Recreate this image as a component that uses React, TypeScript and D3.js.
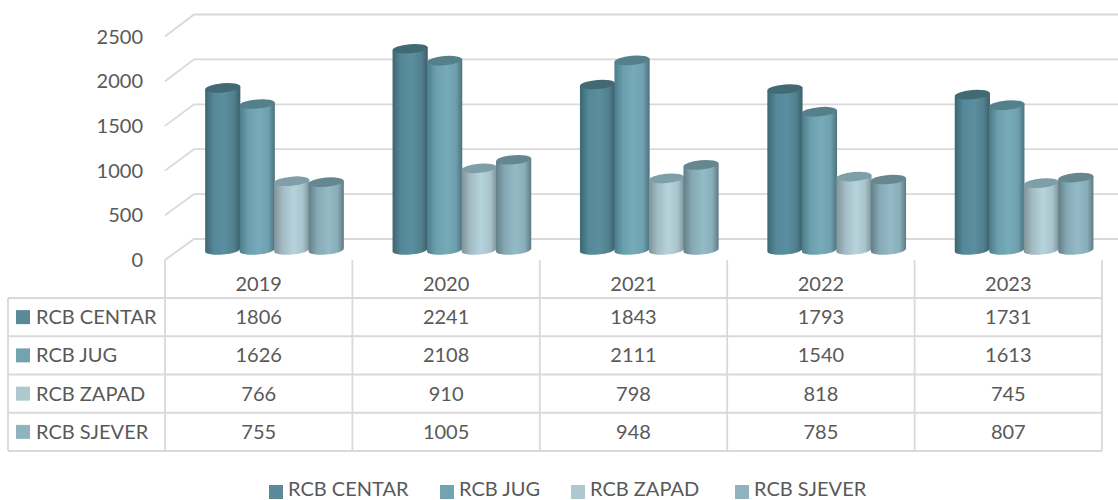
import React from "react";
import * as d3 from "d3";

const years = ["2019", "2020", "2021", "2022", "2023"];
const seriesNames = ["RCB CENTAR", "RCB JUG", "RCB ZAPAD", "RCB SJEVER"];
const centar = [1806, 2241, 1843, 1793, 1731];
const jug = [1626, 2108, 2111, 1540, 1613];
const zapad = [766, 910, 798, 818, 745];
const sjever = [755, 1005, 948, 785, 807];
const yTicks = [0, 500, 1000, 1500, 2000, 2500];

const seriesValues = [centar, jug, zapad, sjever];
const legendColors = ["#5a8a99", "#72a3b0", "#aec8d0", "#8fb3bf"];
const topColors = ["#426a75", "#547f8b", "#7f9fa8", "#668790"];
const gradients = [
  ["#3d6672", "#55899a", "#5b8fa0", "#527f8e", "#3c5f6a"],
  ["#4d7c8a", "#6b9fae", "#77abba", "#6e9fae", "#4c717d"],
  ["#7f9399", "#a3bcc4", "#b6d3dc", "#a8c3cb", "#7f9399"],
  ["#627f88", "#86aab5", "#93bac6", "#88aeb9", "#607a83"],
];

const font = "Lato, Carlito, sans-serif";
const textColor = "#595959";
const lineColor = "#d9d9d9";

const x = d3.scaleBand().domain(years).range([165, 1102]);
const yFront = d3.scaleLinear().domain([0, 2500]).range([260, 36.5]);
const yBack = d3.scaleLinear().domain([0, 2500]).range([239, 14.5]);
const yBar = d3.scaleLinear().domain([0, 2500]).range([250, 25.5]);
const groupWidth = 138;
const barScale = d3
  .scaleBand()
  .domain(seriesNames)
  .range([0, groupWidth])
  .paddingInner(0);

const tableRows = d3.scaleBand().domain(seriesNames).range([298, 451]);
const backRight = 1118;
const tilt = -5;

function Cylinder({ cx, top, base, rx, ry, series }) {
  const dy = rx * Math.sin((tilt * Math.PI) / 180);
  const body = `M${cx - rx},${top - dy}L${cx - rx},${base - dy}A${rx},${ry} ${tilt} 0 0 ${cx + rx},${base + dy}L${cx + rx},${top + dy}Z`;
  return (
    <g>
      <path d={body} fill={`url(#grad${series})`} />
      <ellipse
        cx={cx}
        cy={top}
        rx={rx}
        ry={ry}
        fill={topColors[series]}
        transform={`rotate(${tilt} ${cx} ${top})`}
      />
    </g>
  );
}

export default function App() {
  const rx = 17.6;
  const ry = 4.6;
  const band = x.bandwidth();
  return (
    <svg
      width={1118}
      height={500}
      style={{ position: "absolute", left: 0, top: 0, background: "#fff", fontFamily: font }}
    >
      <defs>
        {gradients.map((g, i) => (
          <linearGradient key={i} id={`grad${i}`} x1="0" x2="1" y1="0" y2="0">
            {g.map((c, j) => (
              <stop key={j} offset={[0, 0.25, 0.55, 0.82, 1][j]} stopColor={c} />
            ))}
          </linearGradient>
        ))}
      </defs>

      {/* gridlines: front edge up to the back wall */}
      {yTicks.map((t) => (
        <g key={t} fill="none" stroke={lineColor} strokeWidth={1.8}>
          <path d={`M165,${yFront(t)}L194,${yBack(t)}L${backRight},${yBack(t)}`} />
        </g>
      ))}

      {yTicks.map((t) => (
        <text
          key={t}
          x={143}
          y={yFront(t)}
          dy="0.35em"
          textAnchor="end"
          fontSize={20}
          fill={textColor}
        >
          {t}
        </text>
      ))}

      {/* cylinders */}
      {years.map((year, yi) => {
        const groupLeft = x(year) + band / 2 - groupWidth / 2 + 15.8;
        return (
          <g key={year}>
            {seriesNames.map((name, si) => {
              const cx = groupLeft + barScale(name) + barScale.bandwidth() / 2;
              return (
                <Cylinder
                  key={name}
                  cx={cx}
                  top={yBar(seriesValues[si][yi])}
                  base={yBar(0)}
                  rx={rx}
                  ry={ry}
                  series={si}
                />
              );
            })}
          </g>
        );
      })}

      {/* data table */}
      <g stroke={lineColor} strokeWidth={1.8} fill="none">
        {[...seriesNames.map((n) => tableRows(n)), 451].map((yy, i) => (
          <line key={i} x1={8} x2={1102} y1={yy} y2={yy} />
        ))}
        <line x1={8} x2={8} y1={298} y2={451} />
        {[...years.map((yr) => x(yr)), 1102].map((xx, i) => (
          <line key={i} x1={xx} x2={xx} y1={260} y2={451} />
        ))}
      </g>

      {years.map((year) => (
        <text
          key={year}
          x={x(year) + band / 2}
          y={284}
          dy="0.35em"
          textAnchor="middle"
          fontSize={20}
          fill={textColor}
        >
          {year}
        </text>
      ))}

      {seriesNames.map((name, si) => {
        const rowMid = tableRows(name) + tableRows.bandwidth() / 2;
        return (
          <g key={name}>
            <rect x={16} y={rowMid - 7} width={14} height={14} fill={legendColors[si]} />
            <text x={36} y={rowMid} dy="0.35em" fontSize={20} fill={textColor}>
              {name}
            </text>
            {years.map((year, yi) => (
              <text
                key={year}
                x={x(year) + band / 2}
                y={rowMid}
                dy="0.35em"
                textAnchor="middle"
                fontSize={20}
                fill={textColor}
              >
                {seriesValues[si][yi]}
              </text>
            ))}
          </g>
        );
      })}

      {/* legend */}
      {seriesNames.map((name, si) => {
        const legendX = [269, 440, 571, 735][si];
        return (
          <g key={name}>
            <rect x={legendX} y={485} width={14} height={14} fill={legendColors[si]} />
            <text x={legendX + 19} y={488.5} dy="0.35em" fontSize={20} fill={textColor}>
              {name}
            </text>
          </g>
        );
      })}
    </svg>
  );
}
